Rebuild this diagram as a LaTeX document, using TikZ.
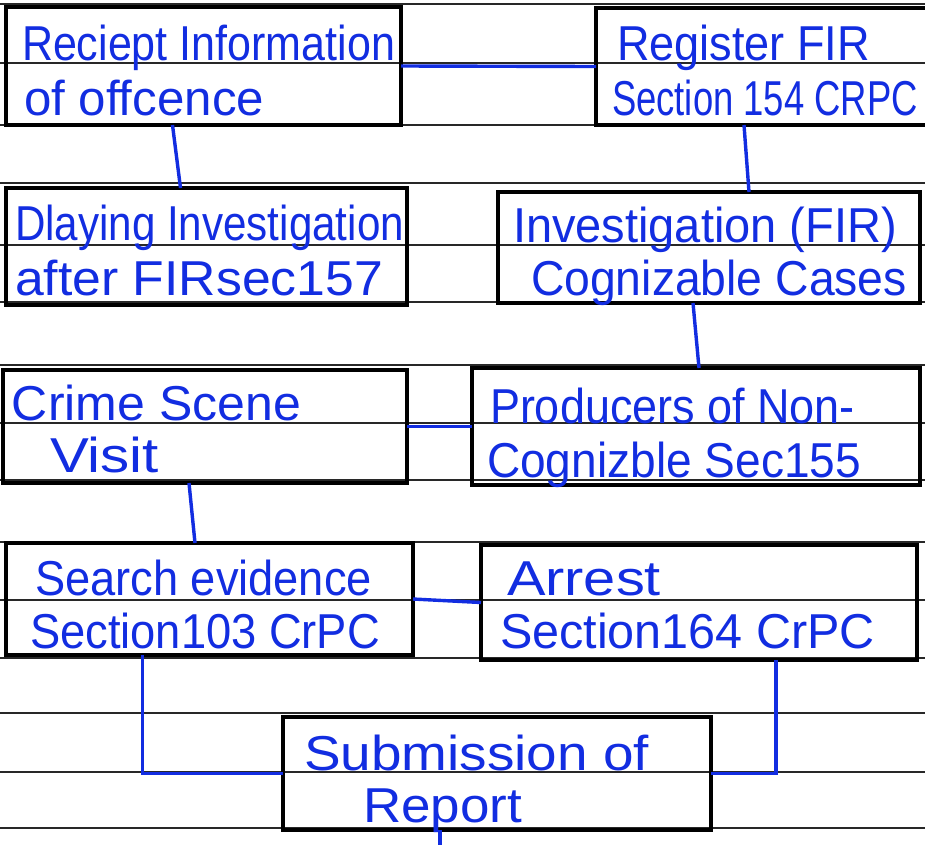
\documentclass[tikz,border=0pt]{standalone}
\usepackage{fontspec}
\setmainfont{Liberation Sans}
\usepackage{graphicx}
\definecolor{ink}{RGB}{18,45,225}
\definecolor{rule}{RGB}{40,40,40}
\newcommand{\hw}[2]{\resizebox{#1pt}{\height}{#2}}
\begin{document}
\begin{tikzpicture}[x=1pt,y=-1pt,
  box/.style={draw=black,line width=4.5pt,rectangle,inner sep=0pt,outer sep=0pt},
  txt/.style={anchor=base west,inner sep=0pt,outer sep=0pt,text=ink,font=\fontsize{49}{49}\selectfont},
  conn/.style={draw=ink,line width=3.4pt},
  paper/.style={draw=rule,line width=1.5pt}]
\fill[white] (0,0) rectangle (925,844);
\useasboundingbox (0,0) rectangle (925,844);
% ruled paper lines
\foreach \yy in {4,63,125,183,245,302,365,423,480,542,600,658,713,772,828}
  \draw[paper] (0,\yy) -- (925,\yy);
% boxes
\node[box,minimum width=395pt,minimum height=118pt] (b1) at (203.5,66) {};
\node[box,minimum width=339pt,minimum height=117pt] (b2) at (765.5,66.5) {};
\node[box,minimum width=401pt,minimum height=117pt] (b3) at (206.5,246.5) {};
\node[box,minimum width=422pt,minimum height=111pt] (b4) at (709,247.5) {};
\node[box,minimum width=404pt,minimum height=113pt] (b5) at (205,426.5) {};
\node[box,minimum width=448pt,minimum height=117pt] (b6) at (696,426.5) {};
\node[box,minimum width=407pt,minimum height=112pt] (b7) at (209.5,599) {};
\node[box,minimum width=436pt,minimum height=115pt] (b8) at (699,602.5) {};
\node[box,minimum width=428pt,minimum height=113pt] (b9) at (497,773.5) {};
% texts
\node[txt] (t1a) at (22,60) {\hw{373}{Reciept Information}};
\node[txt] (t1b) at (24,115) {\hw{240}{of offcence}};
\node[txt] (t2a) at (617,60) {\hw{253}{Register FIR}};
\node[txt] (t2b) at (612,115) {\hw{306}{Section 154 CRPC}};
\node[txt] (t3a) at (15,240) {\hw{389}{Dlaying Investigation}};
\node[txt] (t3b) at (15,295) {\hw{368}{after FIRsec157}};
\node[txt] (t4a) at (513,242) {\hw{384}{Investigation (FIR)}};
\node[txt] (t4b) at (531,295) {\hw{376}{Cognizable Cases}};
\node[txt] (t5a) at (12,420) {\hw{289}{Crime Scene}};
\node[txt] (t5b) at (50,472) {\hw{109}{Visit}};
\node[txt] (t6a) at (490,423) {\hw{365}{Producers of Non-}};
\node[txt] (t6b) at (487,477) {\hw{374}{Cognizble Sec155}};
\node[txt] (t7a) at (35,595) {\hw{337}{Search evidence}};
\node[txt] (t7b) at (30,648) {\hw{350}{Section103 CrPC}};
\node[txt] (t8a) at (507,595) {\hw{154}{Arrest}};
\node[txt] (t8b) at (500,648) {\hw{375}{Section164 CrPC}};
\node[txt] (t9a) at (304,770) {\hw{345}{Submission of}};
\node[txt] (t9b) at (363,822) {\hw{159}{Report}};
% connectors
\draw[conn] (b1.east) -- (b2.west);
\draw[conn] ([xshift=-31pt]b1.south) -- ([xshift=-26pt]b3.north);
\draw[conn] ([xshift=-21.5pt]b2.south) -- ([xshift=40pt]b4.north);
\draw[conn] ([xshift=-16pt]b4.south) -- ([xshift=3pt]b6.north);
\draw[conn] (b5.east) -- (b6.west);
\draw[conn] ([xshift=-16pt]b5.south) -- ([xshift=-14.5pt]b7.north);
\draw[conn] (b7.east) -- (b8.west);
\draw[conn] ([xshift=-67pt]b7.south) |- (b9.west);
\draw[conn] ([xshift=77pt]b8.south) |- (b9.east);
\coordinate (stub) at (440,850);
\draw[conn] ([xshift=-57pt]b9.south) -- (stub);
\end{tikzpicture}
\end{document}
